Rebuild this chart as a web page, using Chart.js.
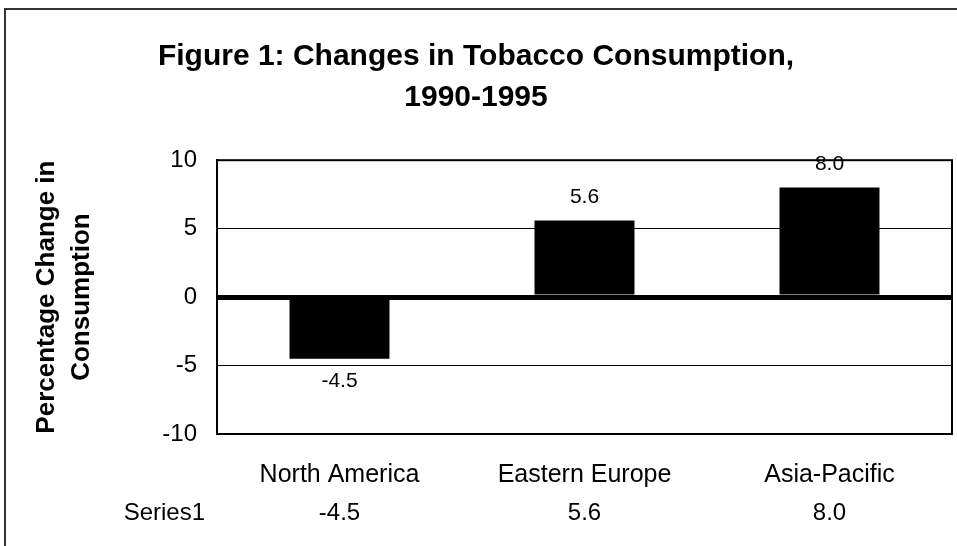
<!DOCTYPE html>
<html>
<head>
<meta charset="utf-8">
<script src="https://cdn.jsdelivr.net/npm/chart.js@4"></script>
<style>
	body { margin: 0; background: #fff; }
	#wrap { width: 957px; height: 546px; position: relative; }
</style>
</head>
<body>
<div id="wrap"><canvas id="tobaccoChart"></canvas></div>
<script>
const regions = ['North America', 'Eastern Europe', 'Asia-Pacific'];
const changeValues = [-4.5, 5.6, 8.0];
const seriesName = 'Series1';
const yMin = -10;
const yMax = 10;
const yStep = 5;

const FONT = '"Liberation Sans", Arial, sans-serif';
Chart.defaults.font.family = FONT;
Chart.defaults.color = '#000';

// outer frame + plot rectangle
const framePlugin = {
	id: 'frame',
	beforeDraw(chart) {
		const c = chart.ctx;
		c.save();
		c.fillStyle = '#fff';
		c.fillRect(0, 0, chart.width, chart.height);
		c.strokeStyle = '#333';
		c.lineWidth = 2;
		c.strokeRect(5, 9, 1200, 1200);
		c.restore();
	},
	afterDraw(chart) {
		const a = chart.chartArea;
		const c = chart.ctx;
		c.save();
		c.strokeStyle = '#000';
		c.lineWidth = 2;
		c.strokeRect(a.left, a.top, a.right - a.left, a.bottom - a.top);
		c.restore();
	}
};

// value labels on bars and the data table row under the axis
const labelsPlugin = {
	id: 'valueLabels',
	afterDatasetsDraw(chart) {
		const c = chart.ctx;
		const meta = chart.getDatasetMeta(0);
		c.save();
		c.fillStyle = '#000';
		c.textAlign = 'center';
		c.textBaseline = 'middle';
		c.font = '21px ' + FONT;
		meta.data.forEach((bar, i) => {
			const v = changeValues[i];
			const y = v >= 0 ? bar.y - 23 : bar.y + 22;
			c.fillText(v.toFixed(1), bar.x, y);
		});
		c.restore();
	},
	afterDraw(chart) {
		const c = chart.ctx;
		const x = chart.scales.x;
		c.save();
		c.fillStyle = '#000';
		c.textBaseline = 'middle';
		c.font = '24px ' + FONT;
		c.textAlign = 'right';
		c.fillText(seriesName, 205, 513);
		c.textAlign = 'center';
		changeValues.forEach((v, i) => {
			c.fillText(v.toFixed(1), x.getPixelForValue(i), 513);
		});
		c.restore();
	}
};

new Chart(document.getElementById('tobaccoChart'), {
	type: 'bar',
	data: {
		labels: regions,
		datasets: [{
			label: seriesName,
			data: changeValues,
			backgroundColor: '#000',
			borderWidth: 0,
			categoryPercentage: 1,
			barPercentage: 0.408
		}]
	},
	options: {
		responsive: true,
		maintainAspectRatio: false,
		animation: false,
		layout: { padding: { left: 0, right: 5, top: 0, bottom: 0 } },
		plugins: {
			legend: { display: false },
			tooltip: { enabled: false },
			title: {
				display: true,
				text: ['Figure 1: Changes in Tobacco Consumption,', '1990-1995'],
				font: { size: 30, weight: 'bold', lineHeight: 1.37 },
				color: '#000',
				padding: { top: 36, bottom: 42 }
			}
		},
		scales: {
			x: {
				grid: { display: false },
				border: { display: false },
				ticks: { font: { size: 25 }, padding: 18, color: '#000' },
				afterFit: function(scale) {
					scale.height = 112;
				}
			},
			y: {
				min: yMin,
				max: yMax,
				ticks: { stepSize: yStep, font: { size: 24 }, padding: 20, color: '#000' },
				grid: {
					color: '#000',
					drawTicks: false,
					lineWidth: function(ctx) {
						return ctx.tick && ctx.tick.value === 0 ? 5 : 1;
					}
				},
				border: { display: true, color: '#000', width: 2 },
				title: {
					display: true,
					text: ['Percentage Change in', 'Consumption'],
					font: { size: 26, weight: 'bold', lineHeight: 1.33 },
					color: '#000',
					padding: { top: 30, bottom: 0 }
				},
				afterFit: function(scale) {
					scale.width = 217;
				}
			}
		}
	},
	plugins: [framePlugin, labelsPlugin]
});
</script>
</body>
</html>
